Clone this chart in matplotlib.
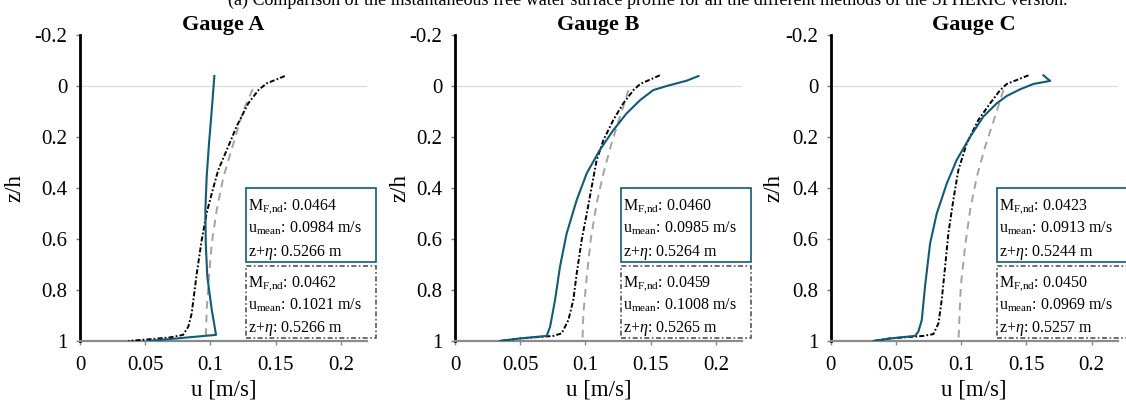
import matplotlib
matplotlib.use("Agg")
import matplotlib.pyplot as plt
from matplotlib.patches import Rectangle

plt.rcParams['font.family'] = ['Liberation Serif', 'DejaVu Serif']
plt.rcParams['mathtext.fontset'] = 'custom'
plt.rcParams['mathtext.rm'] = 'Liberation Serif'
plt.rcParams['mathtext.it'] = 'Liberation Serif:italic'

gauges = ["Gauge A", "Gauge B", "Gauge C"]

# ---- Gauge A ----
a_blue_u = [0.1030, 0.1010, 0.0989, 0.0971, 0.0961, 0.0964, 0.0976, 0.1010, 0.1043, 0.0524]
a_blue_z = [-0.039, 0.094, 0.225, 0.356, 0.486, 0.617, 0.748, 0.878, 0.976, 1.0]
a_black_u = [0.157, 0.143, 0.1368, 0.129, 0.120, 0.1125, 0.106, 0.101, 0.097, 0.0933,
             0.0895, 0.0856, 0.083, 0.079, 0.069, 0.0537, 0.037]
a_black_z = [-0.039, -0.01, 0.016, 0.068, 0.159, 0.251, 0.329, 0.421, 0.5, 0.604,
             0.735, 0.892, 0.944, 0.976, 0.986, 0.993, 1.0]
a_grey_u = [0.1324, 0.1253, 0.1176, 0.1100, 0.1048, 0.1010, 0.0989, 0.0971, 0.0964]
a_grey_z = [0.013, 0.094, 0.225, 0.356, 0.486, 0.617, 0.748, 0.878, 1.0]

# ---- Gauge B ----
b_blue_u = [0.1866, 0.1777, 0.1623, 0.152, 0.142, 0.1316, 0.1214, 0.111, 0.101, 0.0933,
            0.0856, 0.0805, 0.0767, 0.0729, 0.0703, 0.0498, 0.0345]
b_blue_z = [-0.039, -0.021, 0.0, 0.016, 0.055, 0.107, 0.173, 0.251, 0.342, 0.447,
            0.578, 0.708, 0.839, 0.944, 0.980, 0.990, 1.0]
b_black_u = [0.157, 0.142, 0.1368, 0.129, 0.1214, 0.1138, 0.1086, 0.1048, 0.101, 0.0971,
             0.0933, 0.0907, 0.0869, 0.0818, 0.0754, 0.0498, 0.0345]
b_black_z = [-0.042, -0.008, 0.016, 0.068, 0.133, 0.212, 0.29, 0.395, 0.5, 0.604,
             0.735, 0.839, 0.918, 0.97, 0.980, 0.990, 1.0]
b_grey_u = [0.133, 0.1265, 0.120, 0.1138, 0.1086, 0.104, 0.101, 0.0984, 0.0977]
b_grey_z = [0.016, 0.12, 0.225, 0.342, 0.46, 0.604, 0.748, 0.892, 1.0]

# ---- Gauge C ----
c_blue_u = [0.163, 0.1682, 0.1554, 0.1452, 0.135, 0.1273, 0.117, 0.1069, 0.0966, 0.089,
            0.0813, 0.0762, 0.0723, 0.0698, 0.0672, 0.0647, 0.0455, 0.0327]
c_blue_z = [-0.042, -0.02, -0.008, 0.013, 0.039, 0.068, 0.12, 0.199, 0.29, 0.382,
            0.5, 0.617, 0.787, 0.918, 0.963, 0.980, 0.990, 1.0]
c_black_u = [0.1516, 0.135, 0.1299, 0.1222, 0.1132, 0.1043, 0.0979, 0.094, 0.0902, 0.0877,
             0.0851, 0.0826, 0.0787, 0.0711, 0.0455, 0.0327]
c_black_z = [-0.042, -0.008, 0.016, 0.068, 0.133, 0.225, 0.329, 0.447, 0.578, 0.708,
             0.839, 0.931, 0.973, 0.980, 0.990, 1.0]
c_grey_u = [0.1324, 0.126, 0.1184, 0.112, 0.1069, 0.103, 0.0997, 0.0979]
c_grey_z = [0.016, 0.12, 0.238, 0.356, 0.486, 0.63, 0.787, 1.0]

blue_u = [a_blue_u, b_blue_u, c_blue_u]
blue_z = [a_blue_z, b_blue_z, c_blue_z]
black_u = [a_black_u, b_black_u, c_black_u]
black_z = [a_black_z, b_black_z, c_black_z]
grey_u = [a_grey_u, b_grey_u, c_grey_u]
grey_z = [a_grey_z, b_grey_z, c_grey_z]

mf_blue = ["0.0464", "0.0460", "0.0423"]
umean_blue = ["0.0984", "0.0985", "0.0913"]
zeta_blue = ["0.5266", "0.5264", "0.5244"]
mf_black = ["0.0462", "0.0459", "0.0450"]
umean_black = ["0.1021", "0.1008", "0.0969"]
zeta_black = ["0.5266", "0.5265", "0.5257"]

xticks = [0, 0.05, 0.1, 0.15, 0.2]
xticklabels = ["0", "0.05", "0.1", "0.15", "0.2"]
yticks = [-0.2, 0, 0.2, 0.4, 0.6, 0.8, 1.0]
yticklabels = ["-0.2", "0", "0.2", "0.4", "0.6", "0.8", "1"]

BLUE = "#0f5b78"
GREY = "#a3a3a3"

W, H = 1126, 408
fig = plt.figure(figsize=(W / 100, H / 100), dpi=100)

lefts_px = [80, 455, 830.7]
ylabel_x = [-0.19, -0.157, -0.16]
ax_w_px = 287
ax_top_px, ax_bot_px = 35, 341

fig.text(0.575, 1 - 4.5 / H,
         "(a) Comparison of the instantaneous free water surface profile for all the different methods of the SPHERIC version.",
         ha='center', va='baseline', fontsize=13)

for i, name in enumerate(gauges):
    ax = fig.add_axes([lefts_px[i] / W, (H - ax_bot_px) / H, ax_w_px / W,
                       (ax_bot_px - ax_top_px) / H])
    ax.axhline(0, color="#dcdcdc", lw=0.9, zorder=0)
    ax.plot(grey_u[i], grey_z[i], color=GREY, lw=1.4, dashes=(4, 3), zorder=2)
    ax.plot(black_u[i], black_z[i], color="black", lw=1.4, dashes=(2.6, 1.1, 0.9, 1.1), zorder=3)
    ax.plot(blue_u[i], blue_z[i], color=BLUE, lw=1.5, zorder=4)

    ax.set_xlim(0, 0.22)
    ax.set_ylim(1.0, -0.2)
    ax.set_xticks(xticks)
    ax.set_xticklabels(xticklabels)
    ax.set_yticks(yticks)
    ax.set_yticklabels(yticklabels)
    for s in ['top', 'right']:
        ax.spines[s].set_visible(False)
    ax.spines['left'].set_color('black')
    ax.spines['left'].set_linewidth(2.0)
    ax.spines['bottom'].set_color('#8a8a8a')
    ax.spines['bottom'].set_linewidth(1.6)
    ax.tick_params(axis='y', length=3, width=1, color='#777777', pad=6, labelsize=15)
    ax.tick_params(axis='x', length=3, width=1, color='#8a8a8a', pad=8, labelsize=15)
    ax.set_xlabel("u [m/s]", fontsize=16.5, labelpad=3)
    ax.set_ylabel("z/h", fontsize=16.5)
    ax.yaxis.set_label_coords(ylabel_x[i], 0.5)
    ax.set_title(name, fontsize=16, fontweight='bold', pad=3)

    # annotation boxes
    bx = 0.579
    bw = 0.453
    boxes = [
        (0.258, 0.500, BLUE, '-', mf_blue[i], umean_blue[i], zeta_blue[i]),
        (0.010, 0.245, "#555555", (0, (3, 1.5, 1, 1.5)), mf_black[i], umean_black[i], zeta_black[i]),
    ]
    for (y0, y1, ec, ls, mf, um, ze) in boxes:
        r = Rectangle((bx, y0), bw, y1 - y0, transform=ax.transAxes, fill=True,
                      facecolor='white', edgecolor=ec, lw=1.2, linestyle=ls,
                      clip_on=False, zorder=5)
        ax.add_patch(r)
        hh = y1 - y0
        lines = [r"M$_{\mathrm{F{,}nd}}$: " + mf,
                 r"u$_{\mathrm{mean}}$: " + um + " m/s",
                 r"z+$\mathit{\eta}$: " + ze + " m"]
        for k, t in enumerate(lines):
            ax.text(bx + 0.008, y1 - hh * (0.29 + 0.315 * k), t, transform=ax.transAxes,
                    fontsize=11.5, ha='left', va='baseline', zorder=6, clip_on=False)

fig.savefig("out.png", dpi=100)
